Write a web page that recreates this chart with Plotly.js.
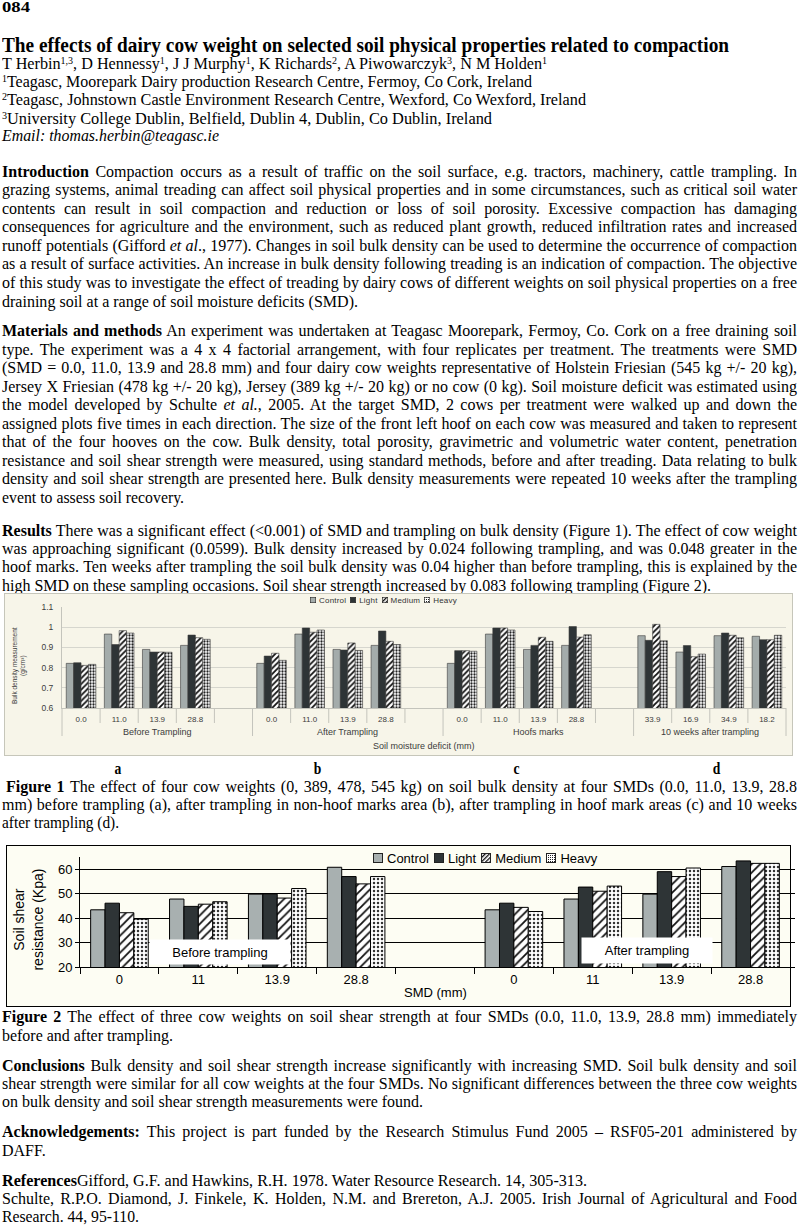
<!DOCTYPE html>
<html><head><meta charset="utf-8">
<script src="https://cdn.plot.ly/plotly-3.0.1.min.js"></script>
<style>
html,body{margin:0;padding:0;background:#fff;}
#page{position:relative;width:800px;height:1226px;overflow:hidden;font-family:"Liberation Serif","Times New Roman",serif;font-size:16px;color:#000;}
.ln{position:absolute;left:2px;white-space:nowrap;line-height:18px;height:18px;}
.ln > span{display:inline-block;transform-origin:0 50%;white-space:nowrap;}
.b{font-weight:bold;}
sup{font-size:0.62em;vertical-align:0;position:relative;top:-0.55em;line-height:0;}
.lt{position:absolute;font-weight:bold;font-size:16px;line-height:18px;transform:scaleX(0.85);}
.box1{position:absolute;left:4px;top:593px;width:789px;height:163px;box-sizing:border-box;border:1px solid #c6c6ba;background:#f7f5e9;}
.box2{position:absolute;left:6px;top:845px;width:785px;height:162px;box-sizing:border-box;border:1px solid #000;background:#fdfdf3;}
.plot{position:absolute;left:-1px;top:-1px;}
.lg{position:absolute;display:flex;align-items:center;white-space:nowrap;font-family:"Liberation Sans",Arial,sans-serif;}
.lg .it{display:flex;align-items:center;}
.lg svg{display:block;}
</style></head>
<body>
<div id="page">
<div class="ln b" style="top:-2px;font-size:15px" data-w="28"><span>084</span></div>
<div class="ln b" style="top:34px;font-size:20px;line-height:22px;height:22px" data-w="727"><span>The effects of dairy cow weight on selected soil physical properties related to compaction</span></div>
<div class="ln" style="top:55px" data-w="545"><span>T Herbin<sup>1,3</sup>, D Hennessy<sup>1</sup>, J J Murphy<sup>1</sup>, K Richards<sup>2</sup>, A Piwowarczyk<sup>3</sup>, N M Holden<sup>1</sup></span></div>
<div class="ln" style="top:73px" data-w="530"><span><sup>1</sup>Teagasc, Moorepark Dairy production Research Centre, Fermoy, Co Cork, Ireland</span></div>
<div class="ln" style="top:91px" data-w="584"><span><sup>2</sup>Teagasc, Johnstown Castle Environment Research Centre, Wexford, Co Wexford, Ireland</span></div>
<div class="ln" style="top:110px" data-w="490"><span><sup>3</sup>University College Dublin, Belfield, Dublin 4, Dublin, Co Dublin, Ireland</span></div>
<div class="ln" style="top:127px" data-w="217"><span><i>Email: thomas.herbin@teagasc.ie</i></span></div>

<div class="ln" style="top:163px" data-w="795" data-j="1"><span><b>Introduction</b> Compaction occurs as a result of traffic on the soil surface, e.g. tractors, machinery, cattle trampling. In</span></div>
<div class="ln" style="top:181px" data-w="795" data-j="1"><span>grazing systems, animal treading can affect soil physical properties and in some circumstances, such as critical soil water</span></div>
<div class="ln" style="top:200px" data-w="795" data-j="1"><span>contents can result in soil compaction and reduction or loss of soil porosity. Excessive compaction has damaging</span></div>
<div class="ln" style="top:218px" data-w="795" data-j="1"><span>consequences for agriculture and the environment, such as reduced plant growth, reduced infiltration rates and increased</span></div>
<div class="ln" style="top:237px" data-w="795" data-j="1"><span>runoff potentials (Gifford <i>et al</i>., 1977). Changes in soil bulk density can be used to determine the occurrence of compaction</span></div>
<div class="ln" style="top:255px" data-w="795" data-j="1"><span>as a result of surface activities. An increase in bulk density following treading is an indication of compaction. The objective</span></div>
<div class="ln" style="top:274px" data-w="795" data-j="1"><span>of this study was to investigate the effect of treading by dairy cows of different weights on soil physical properties on a free</span></div>
<div class="ln" style="top:293px" data-w="356"><span>draining soil at a range of soil moisture deficits (SMD).</span></div>

<div class="ln" style="top:322px" data-w="795" data-j="1"><span><b>Materials and methods</b> An experiment was undertaken at Teagasc Moorepark, Fermoy, Co. Cork on a free draining soil</span></div>
<div class="ln" style="top:341px" data-w="795" data-j="1"><span>type. The experiment was a 4 x 4 factorial arrangement, with four replicates per treatment. The treatments were SMD</span></div>
<div class="ln" style="top:359px" data-w="795" data-j="1"><span>(SMD = 0.0, 11.0, 13.9 and 28.8 mm) and four dairy cow weights representative of Holstein Friesian (545 kg +/- 20 kg),</span></div>
<div class="ln" style="top:378px" data-w="795" data-j="1"><span>Jersey X Friesian (478 kg +/- 20 kg), Jersey (389 kg +/- 20 kg) or no cow (0 kg). Soil moisture deficit was estimated using</span></div>
<div class="ln" style="top:396px" data-w="795" data-j="1"><span>the model developed by Schulte <i>et al.</i>, 2005. At the target SMD, 2 cows per treatment were walked up and down the</span></div>
<div class="ln" style="top:415px" data-w="795" data-j="1"><span>assigned plots five times in each direction. The size of the front left hoof on each cow was measured and taken to represent</span></div>
<div class="ln" style="top:433px" data-w="795" data-j="1"><span>that of the four hooves on the cow. Bulk density, total porosity, gravimetric and volumetric water content, penetration</span></div>
<div class="ln" style="top:452px" data-w="795" data-j="1"><span>resistance and soil shear strength were measured, using standard methods, before and after treading. Data relating to bulk</span></div>
<div class="ln" style="top:470px" data-w="795" data-j="1"><span>density and soil shear strength are presented here. Bulk density measurements were repeated 10 weeks after the trampling</span></div>
<div class="ln" style="top:489px" data-w="182"><span>event to assess soil recovery.</span></div>

<div class="ln" style="top:522px" data-w="795" data-j="1"><span><b>Results</b> There was a significant effect (&lt;0.001) of SMD and trampling on bulk density (Figure 1). The effect of cow weight</span></div>
<div class="ln" style="top:540px" data-w="795" data-j="1"><span>was approaching significant (0.0599). Bulk density increased by 0.024 following trampling, and was 0.048 greater in the</span></div>
<div class="ln" style="top:558px" data-w="795" data-j="1"><span>hoof marks. Ten weeks after trampling the soil bulk density was 0.04 higher than before trampling, this is explained by the</span></div>
<div class="ln" style="top:577px" data-w="709"><span>high SMD on these sampling occasions. Soil shear strength increased by 0.083 following trampling (Figure 2).</span></div>

<div class="box1"><div id="fig1" class="plot"></div></div>
<div id="lg1" class="lg" style="left:310px;top:596px;height:8px;font-size:8px;color:#333;letter-spacing:0.2px"></div>

<span class="lt" style="left:114px;top:760px">a</span>
<span class="lt" style="left:313px;top:760px">b</span>
<span class="lt" style="left:513px;top:760px">c</span>
<span class="lt" style="left:712px;top:760px">d</span>
<div class="ln" style="top:778px;left:6px" data-w="791" data-j="1"><span><b>Figure 1</b> The effect of four cow weights (0, 389, 478, 545 kg) on soil bulk density at four SMDs (0.0, 11.0, 13.9, 28.8</span></div>
<div class="ln" style="top:796px" data-w="795" data-j="1"><span>mm) before trampling (a), after trampling in non-hoof marks area (b), after trampling in hoof mark areas (c) and 10 weeks</span></div>
<div class="ln" style="top:814px" data-w="117"><span>after trampling (d).</span></div>

<div class="box2"><div id="fig2" class="plot"></div></div>
<div id="lg2" class="lg" style="left:373px;top:851px;height:14px;font-size:13px;color:#000"></div>

<div class="ln" style="top:1008px" data-w="795" data-j="1"><span><b>Figure 2</b> The effect of three cow weights on soil shear strength at four SMDs (0.0, 11.0, 13.9, 28.8 mm) immediately</span></div>
<div class="ln" style="top:1027px" data-w="171"><span>before and after trampling.</span></div>

<div class="ln" style="top:1057px" data-w="795" data-j="1"><span><b>Conclusions</b> Bulk density and soil shear strength increase significantly with increasing SMD. Soil bulk density and soil</span></div>
<div class="ln" style="top:1075px" data-w="795" data-j="1"><span>shear strength were similar for all cow weights at the four SMDs. No significant differences between the three cow weights</span></div>
<div class="ln" style="top:1093px" data-w="421"><span>on bulk density and soil shear strength measurements were found.</span></div>

<div class="ln" style="top:1123px" data-w="795" data-j="1"><span><b>Acknowledgements:</b> This project is part funded by the Research Stimulus Fund 2005 – RSF05-201 administered by</span></div>
<div class="ln" style="top:1142px"><span>DAFF.</span></div>

<div class="ln" style="top:1172px" data-w="585"><span><b>References</b>Gifford, G.F. and Hawkins, R.H. 1978. Water Resource Research. 14, 305-313.</span></div>
<div class="ln" style="top:1190px" data-w="795" data-j="1"><span>Schulte, R.P.O. Diamond, J. Finkele, K. Holden, N.M. and Brereton, A.J. 2005. Irish Journal of Agricultural and Food</span></div>
<div class="ln" style="top:1208px" data-w="137"><span>Research. 44, 95-110.</span></div>
</div>

<script>
// ---------- Figure 1 data: bulk density (g/cm3) ----------
const seriesNames = ['Control', 'Light', 'Medium', 'Heavy'];
const fig1Groups = ['Before Trampling', 'After Trampling', 'Hoofs marks', '10 weeks after trampling'];
const fig1SMD = [
  ['0.0', '11.0', '13.9', '28.8'],
  ['0.0', '11.0', '13.9', '28.8'],
  ['0.0', '11.0', '13.9', '28.8'],
  ['33.9', '16.9', '34.9', '18.2']
];
const fig1Control = [0.821, 0.966, 0.890, 0.910, 0.821, 0.966, 0.890, 0.910, 0.821, 0.966, 0.890, 0.910, 0.958, 0.877, 0.958, 0.955];
const fig1Light   = [0.824, 0.914, 0.877, 0.961, 0.857, 0.996, 0.887, 0.981, 0.884, 0.996, 0.910, 1.003, 0.935, 0.909, 0.971, 0.938];
const fig1Medium  = [0.811, 0.983, 0.877, 0.948, 0.871, 0.975, 0.922, 0.930, 0.884, 0.996, 0.950, 0.951, 1.014, 0.854, 0.960, 0.938];
const fig1Heavy   = [0.816, 0.971, 0.876, 0.940, 0.836, 0.986, 0.885, 0.914, 0.881, 0.986, 0.930, 0.963, 0.933, 0.867, 0.948, 0.960];
const fig1YTicks = [0.6, 0.7, 0.8, 0.9, 1.0, 1.1];
const fig1YTickText = ['0.6', '0.7', '0.8', '0.9', '1', '1.1'];
const fig1XTitle = 'Soil moisture deficit (mm)';
const fig1YTitle = 'Bulk density measurement<br>(g/cm³)';

// ---------- Figure 2 data: soil shear resistance (Kpa) ----------
const fig2Groups = ['Before trampling', 'After trampling'];
const fig2SMD = ['0', '11', '13.9', '28.8'];
const fig2Control = [43.4, 47.8, 49.8, 60.8, 43.4, 47.8, 49.8, 61.1];
const fig2Light   = [46.1, 44.8, 49.8, 57.0, 46.1, 52.7, 59.0, 63.4];
const fig2Medium  = [42.2, 45.7, 48.2, 54.0, 44.4, 51.0, 57.0, 62.4];
const fig2Heavy   = [39.6, 46.7, 52.1, 57.0, 42.7, 53.1, 60.5, 62.4];
const fig2YTicks = [20, 30, 40, 50, 60];
const fig2XTitle = 'SMD (mm)';
const fig2YTitle = 'Soil shear<br>resistance (Kpa)';

const SANS = 'Liberation Sans, Arial, sans-serif';

// ---------- Figure 1 ----------
const cats1 = [], catText1 = [], barX1 = [], groupStart1 = [], groupLen1 = [];
fig1Groups.forEach((g, gi) => {
  groupStart1.push(cats1.length);
  fig1SMD[gi].forEach(s => { const k = g + '|' + s; cats1.push(k); catText1.push(s); barX1.push(k); });
  if (gi < fig1Groups.length - 1) { cats1.push(g + '|gap'); catText1.push(''); }
  groupLen1.push(cats1.length - groupStart1[gi]);
});
const N1 = cats1.length;
const bounds1 = groupStart1.concat([N1]);

const style1 = [
  {color: '#a4acab', pattern: null},
  {color: '#2e3436', pattern: null},
  {color: '#ffffff', pattern: {shape: '/', fgcolor: '#111', bgcolor: '#ffffff', size: 4, solidity: 0.45}},
  {color: '#ffffff', pattern: {shape: '.', fgcolor: '#222', bgcolor: '#ffffff', size: 3, solidity: 0.45}}
];
const vals1 = [fig1Control, fig1Light, fig1Medium, fig1Heavy];
const traces1 = seriesNames.map((n, i) => {
  const m = {color: style1[i].color, line: {color: '#3a3a3a', width: 0.6}};
  if (style1[i].pattern) m.pattern = style1[i].pattern;
  return {type: 'bar', name: n, x: barX1, y: vals1[i], marker: m, showlegend: false};
});

const shapes1 = [];
for (let i = 0; i <= N1; i++) {
  const long = bounds1.includes(i);
  shapes1.push({type: 'line', xref: 'paper', yref: 'paper', ysizemode: 'pixel', yanchor: 0,
    x0: i / N1, x1: i / N1, y0: 0, y1: long ? -28 : -15, line: {color: '#c4c4bc', width: 1}});
}
const ann1 = fig1Groups.map((g, gi) => ({
  text: g, xref: 'paper', yref: 'paper', x: (groupStart1[gi] + groupLen1[gi] / 2) / N1, y: -0.238,
  xanchor: 'center', yanchor: 'middle', showarrow: false, font: {family: SANS, size: 9, color: '#3c3c3c'}
}));
ann1.push({text: fig1XTitle, xref: 'paper', yref: 'paper', x: 0.5, y: -0.376, xanchor: 'center', yanchor: 'middle',
  showarrow: false, font: {family: SANS, size: 9, color: '#3c3c3c'}});
ann1.push({text: fig1YTitle, xref: 'paper', yref: 'paper', x: -0.0594, y: 0.426, xanchor: 'center', yanchor: 'middle',
  textangle: -90, showarrow: false, font: {family: SANS, size: 6.5, color: '#3c3c3c'}});

const layout1 = {
  width: 789, height: 163,
  margin: {l: 58, r: 7, t: 14, b: 48, pad: 0},
  paper_bgcolor: 'rgba(0,0,0,0)', plot_bgcolor: 'rgba(0,0,0,0)',
  barmode: 'group', bargap: 0.223, bargroupgap: 0,
  showlegend: false, hovermode: false,
  font: {family: SANS, size: 8, color: '#3c3c3c'},
  xaxis: {type: 'category', categoryorder: 'array', categoryarray: cats1, range: [-0.5, N1 - 0.5],
    tickvals: cats1, ticktext: catText1, ticks: '', showgrid: false, showline: true, linecolor: '#c4c4bc', linewidth: 1,
    tickfont: {family: SANS, size: 8, color: '#3c3c3c'}, ticklabelstandoff: 3, zeroline: false},
  yaxis: {range: [0.6, 1.1], tickvals: fig1YTicks, ticktext: fig1YTickText, showgrid: true, gridcolor: '#d6d6ce', gridwidth: 1,
    showline: true, linecolor: '#c4c4bc', linewidth: 1, ticks: '', tickfont: {family: SANS, size: 8.5, color: '#3c3c3c'},
    ticklabelstandoff: 6, zeroline: false},
  shapes: shapes1,
  annotations: ann1
};

// ---------- Figure 2 ----------
const cats2 = [], catText2 = [], barX2 = [];
fig2Groups.forEach((g, gi) => {
  fig2SMD.forEach(s => { const k = g + '|' + s; cats2.push(k); catText2.push(s); barX2.push(k); });
  if (gi < fig2Groups.length - 1) { cats2.push(g + '|gap'); catText2.push(''); }
});
const N2 = cats2.length;
const style2 = [
  {color: '#a8b0b0', pattern: null},
  {color: '#2e3436', pattern: null},
  {color: '#ffffff', pattern: {shape: '/', fgcolor: '#111', bgcolor: '#ffffff', size: 6, solidity: 0.3}},
  {color: '#ffffff', pattern: {shape: '.', fgcolor: '#333', bgcolor: '#ffffff', size: 4, solidity: 0.3}}
];
const vals2 = [fig2Control, fig2Light, fig2Medium, fig2Heavy];
const traces2 = seriesNames.map((n, i) => {
  const m = {color: style2[i].color, line: {color: '#000', width: 1}};
  if (style2[i].pattern) m.pattern = style2[i].pattern;
  return {type: 'bar', name: n, x: barX2, y: vals2[i], marker: m, showlegend: false};
});
const boxFont = {family: SANS, size: 13, color: '#000'};
const layout2 = {
  width: 790, height: 162,
  margin: {l: 74, r: 6, t: 12, b: 40, pad: 0},
  paper_bgcolor: 'rgba(0,0,0,0)', plot_bgcolor: 'rgba(0,0,0,0)',
  barmode: 'group', bargap: 0.27, bargroupgap: 0,
  showlegend: false, hovermode: false,
  font: {family: SANS, size: 13, color: '#000'},
  xaxis: {type: 'category', categoryorder: 'array', categoryarray: cats2, range: [-0.5, N2 - 0.5],
    tickvals: cats2, ticktext: catText2, tickson: 'boundaries', ticks: 'outside', ticklen: 6, tickcolor: '#000',
    showgrid: false, showline: true, linecolor: '#000', linewidth: 1, tickfont: {family: SANS, size: 13, color: '#000'}, zeroline: false},
  yaxis: {range: [20, 65], tickvals: fig2YTicks, showgrid: true, gridcolor: '#000', gridwidth: 1,
    showline: true, linecolor: '#000', linewidth: 1, mirror: 'ticks', ticks: 'outside', ticklen: 4, tickcolor: '#000',
    tickfont: {family: SANS, size: 13, color: '#000'}, zeroline: false},
  annotations: [
    {text: fig2Groups[0], xref: 'paper', yref: 'paper', x: 0.197, y: 0.136, xanchor: 'center', yanchor: 'middle',
      showarrow: false, bgcolor: '#ffffff', width: 140, height: 24, borderpad: 0, font: boxFont},
    {text: fig2Groups[1], xref: 'paper', yref: 'paper', x: 0.799, y: 0.15, xanchor: 'center', yanchor: 'middle',
      showarrow: false, bgcolor: '#ffffff', width: 130, height: 25, borderpad: 0, font: boxFont},
    {text: fig2XTitle, xref: 'paper', yref: 'paper', x: 0.501, y: -0.236, xanchor: 'center', yanchor: 'middle',
      showarrow: false, font: {family: SANS, size: 13, color: '#000'}},
    {text: fig2YTitle, xref: 'paper', yref: 'paper', x: -0.0725, y: 0.427, xanchor: 'center', yanchor: 'middle',
      textangle: -90, showarrow: false, font: {family: SANS, size: 14, color: '#000'}}
  ]
};

Plotly.newPlot('fig1', traces1, layout1, {staticPlot: true, displayModeBar: false});
Plotly.newPlot('fig2', traces2, layout2, {staticPlot: true, displayModeBar: false});

// ---------- legends (HTML, Excel-like compact layout) ----------
let pid = 0;
function swatch(i, size, styles, strokeW) {
  const id = 'pat' + (pid++);
  const s = styles[i];
  let defs = '', fill = s.color;
  if (s.pattern && s.pattern.shape === '/') {
    defs = '<defs><pattern id="' + id + '" width="3" height="3" patternUnits="userSpaceOnUse" patternTransform="rotate(45)">' +
      '<rect width="3" height="3" fill="#fff"/><rect width="1.3" height="3" fill="#111"/></pattern></defs>';
    fill = 'url(#' + id + ')';
  } else if (s.pattern) {
    defs = '<defs><pattern id="' + id + '" width="2" height="2" patternUnits="userSpaceOnUse">' +
      '<rect width="2" height="2" fill="#fff"/><rect width="1" height="1" fill="#222"/></pattern></defs>';
    fill = 'url(#' + id + ')';
  }
  return '<svg width="' + size + '" height="' + size + '">' + defs +
    '<rect x="' + (strokeW / 2) + '" y="' + (strokeW / 2) + '" width="' + (size - strokeW) + '" height="' + (size - strokeW) +
    '" fill="' + fill + '" stroke="#222" stroke-width="' + strokeW + '"/></svg>';
}
function buildLegend(elId, styles, size, gapIn, gapOut, strokeW) {
  const el = document.getElementById(elId);
  el.innerHTML = seriesNames.map((n, i) =>
    '<span class="it" style="margin-right:' + gapOut + 'px">' + swatch(i, size, styles, strokeW) +
    '<span style="margin-left:' + gapIn + 'px">' + n + '</span></span>').join('');
}
buildLegend('lg1', style1, 6, 3, 4, 0.6);
buildLegend('lg2', style2, 10, 4, 5, 1);

// ---------- fit text lines to measured widths ----------
function fitLines() {
  document.querySelectorAll('.ln').forEach(el => {
    const sp = el.firstElementChild;
    const target = parseFloat(el.dataset.w);
    if (!target) return;
    sp.style.transform = ''; el.style.wordSpacing = '';
    const w = sp.getBoundingClientRect().width;
    if (el.dataset.j === '1' && w < target) {
      const n = sp.textContent.trim().split(/\s+/).length - 1;
      el.style.wordSpacing = ((target - w) / n) + 'px';
    } else {
      sp.style.transform = 'scaleX(' + (target / w) + ')';
    }
  });
}
fitLines();
if (document.fonts && document.fonts.ready) document.fonts.ready.then(fitLines);
</script>
</body></html>
